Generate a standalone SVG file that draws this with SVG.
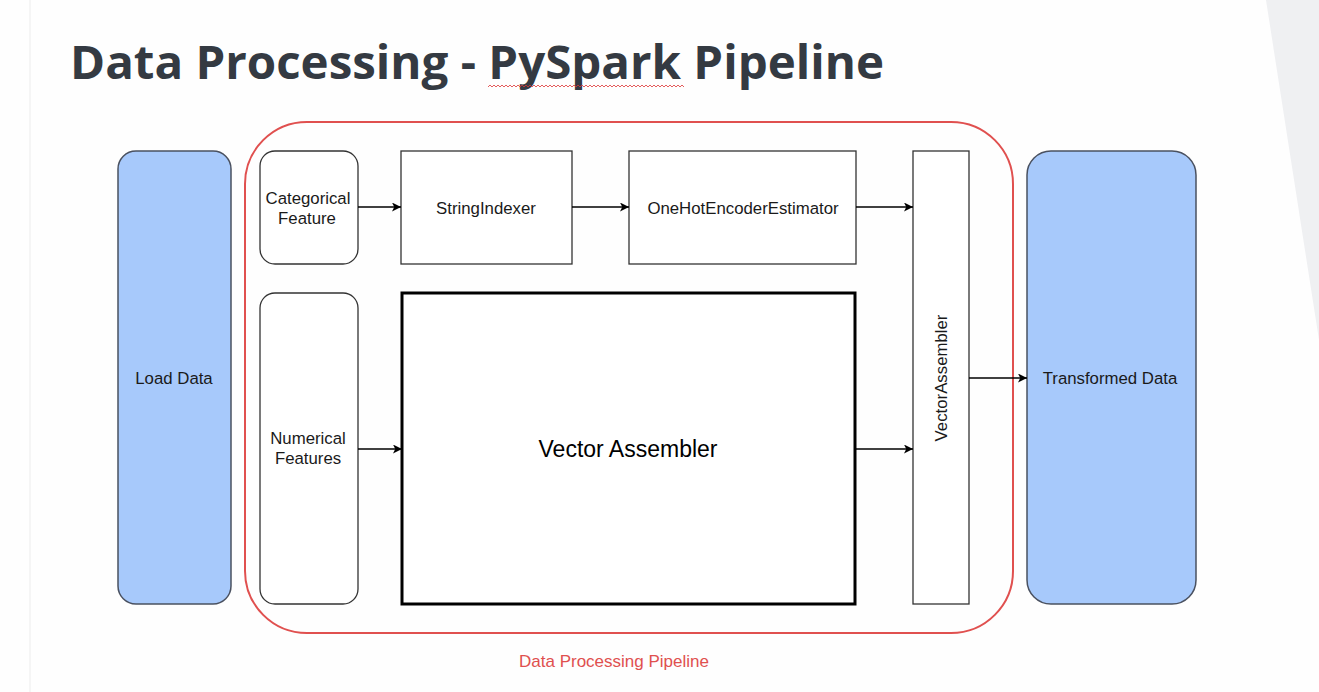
<svg xmlns="http://www.w3.org/2000/svg" width="1319" height="692" viewBox="0 0 1319 692">
<style>
.t{font-family:"Liberation Sans",Arial,sans-serif;font-size:16.8px;fill:#1a1a1a;text-anchor:middle;dominant-baseline:central}
.box{fill:#fff;stroke:#333;stroke-width:1.3}
.blue{fill:#a7c9fb;stroke:#4a5160;stroke-width:1.5}
.conn line{stroke:#000;stroke-width:1.3;marker-end:url(#ah)}
</style>
<defs>
<marker id="ah" viewBox="0 0 10 10" refX="10" refY="5" markerWidth="9" markerHeight="9" markerUnits="userSpaceOnUse" orient="auto">
<path d="M0,0 L10,5 L0,10 L2.5,5 Z" fill="#000"/>
</marker>
</defs>
<rect width="1319" height="692" fill="#fefefe"/>
<polygon points="1266,0 1319,0 1319,340" fill="#eff0f2"/>
<line x1="30" y1="0" x2="30" y2="692" stroke="#ececec" stroke-width="1"/>
<g id="title">
<text x="70" y="79" font-family="'Open Sans',sans-serif" font-weight="bold" font-size="46" fill="#343a42" textLength="814" lengthAdjust="spacingAndGlyphs">Data Processing - PySpark Pipeline</text>
<path d="M488,87 l2,-2 l2,2 l2,-2 l2,2 l2,-2 l2,2 l2,-2 l2,2 l2,-2 l2,2 l2,-2 l2,2 l2,-2 l2,2 l2,-2 l2,2 l2,-2 l2,2 l2,-2 l2,2 l2,-2 l2,2 l2,-2 l2,2 l2,-2 l2,2 l2,-2 l2,2 l2,-2 l2,2 l2,-2 l2,2 l2,-2 l2,2 l2,-2 l2,2 l2,-2 l2,2 l2,-2 l2,2 l2,-2 l2,2 l2,-2 l2,2 l2,-2 l2,2 l2,-2 l2,2 l2,-2 l2,2 l2,-2 l2,2 l2,-2 l2,2 l2,-2 l2,2 l2,-2 l2,2 l2,-2 l2,2 l2,-2 l2,2 l2,-2 l2,2 l2,-2 l2,2 l2,-2 l2,2 l2,-2 l2,2 l2,-2 l2,2 l2,-2 l2,2 l2,-2 l2,2 l2,-2 l2,2 l2,-2 l2,2 l2,-2 l2,2 l2,-2 l2,2 l2,-2 l2,2 l2,-2 l2,2 l2,-2 l2,2 l2,-2 l2,2 l2,-2 l2,2 l2,-2 l2,2 l2,-2 l2,2" fill="none" stroke="#d33" stroke-width="0.8"/>
</g>
<g id="pipeline">
<rect x="245" y="122" width="768" height="511" rx="62" fill="none" stroke="#e0504f" stroke-width="2"/>
<text x="614" y="661" class="t" style="fill:#e0504f;font-size:17px">Data Processing Pipeline</text>
</g>
<g id="load-data">
<rect x="118" y="151" width="113" height="453" rx="18" class="blue"/>
<text x="174" y="378" class="t">Load Data</text>
</g>
<g id="categorical-feature">
<rect x="260" y="151" width="98" height="113" rx="15" class="box"/>
<text x="308" y="198" class="t">Categorical</text>
<text x="307" y="218" class="t">Feature</text>
</g>
<g id="string-indexer">
<rect x="401" y="151" width="171" height="113" class="box"/>
<text x="486" y="208" class="t">StringIndexer</text>
</g>
<g id="onehot">
<rect x="629" y="151" width="227" height="113" class="box"/>
<text x="743" y="208" class="t">OneHotEncoderEstimator</text>
</g>
<g id="numerical-features">
<rect x="260" y="293" width="98" height="311" rx="15" class="box"/>
<text x="308" y="438" class="t">Numerical</text>
<text x="308" y="458" class="t">Features</text>
</g>
<g id="vector-assembler-big">
<rect x="402" y="293" width="453" height="311" fill="#fff" stroke="#000" stroke-width="3"/>
<text x="628" y="449" class="t" style="font-size:23px;fill:#000">Vector Assembler</text>
</g>
<g id="vector-assembler">
<rect x="913" y="151" width="56" height="453" class="box"/>
<text x="941" y="378" class="t" transform="rotate(-90 941 378)">VectorAssembler</text>
</g>
<g id="transformed-data">
<rect x="1027" y="151" width="169" height="453" rx="24" class="blue"/>
<text x="1110" y="378" class="t">Transformed Data</text>
</g>
<g class="conn" id="connectors">
<line x1="358" y1="207" x2="401" y2="207"/>
<line x1="572" y1="207" x2="629" y2="207"/>
<line x1="856" y1="207" x2="913" y2="207"/>
<line x1="358" y1="449" x2="402" y2="449"/>
<line x1="855" y1="449" x2="913" y2="449"/>
<line x1="969" y1="378" x2="1027" y2="378"/>
</g>
</svg>
